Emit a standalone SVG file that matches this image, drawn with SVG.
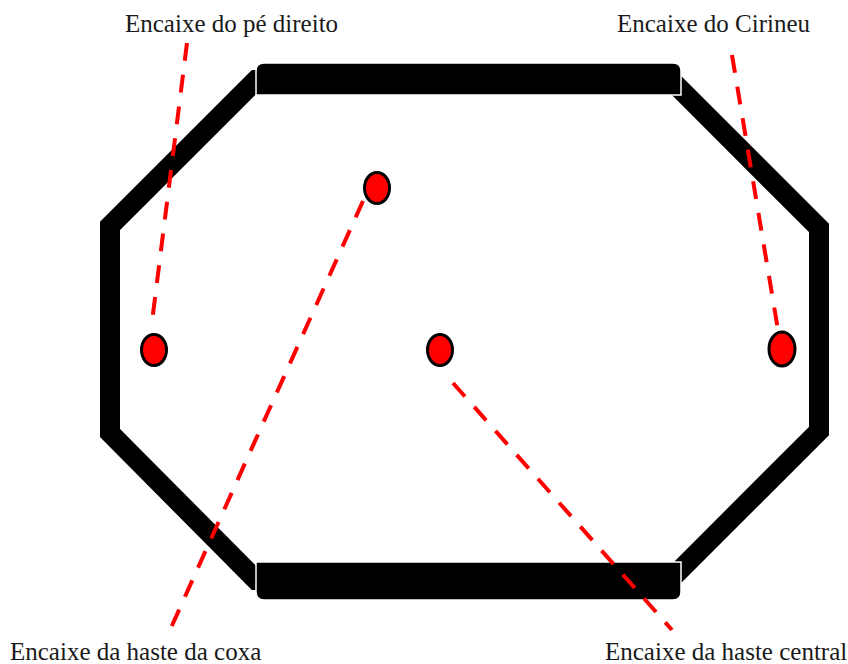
<svg xmlns="http://www.w3.org/2000/svg" width="848" height="664" viewBox="0 0 848 664">
<style>
.frame{fill:none;stroke:#000;stroke-width:20;stroke-linejoin:miter}
.bar{fill:#000;stroke:#fff;stroke-width:1.5}
.dot{fill:#f00;stroke:#000;stroke-width:3}
.lead{stroke:#f00;stroke-width:4;stroke-dasharray:18 14;fill:none}
.lbl{font-family:"Liberation Serif","Times New Roman",serif;font-size:25px;fill:#1a1a1a}
</style>
<rect width="848" height="664" fill="#fff"/>
<g id="frame">
<polygon class="frame" points="256,80 671,80 819,228 819,431 670,580 256,580 110,433 110,226"/>
<path id="topbar" class="bar" d="M256,95 V71 Q256,63 264,63 H673 Q681,63 681,71 V95 Z"/>
<path id="bottombar" class="bar" d="M256,562 V592 Q256,600 264,600 H673 Q681,600 681,592 V562 Z"/>
</g>
<g id="connectors">
<line class="lead" x1="187" y1="43" x2="152" y2="322"/>
<line class="lead" x1="732" y1="55" x2="778" y2="330"/>
<line class="lead" x1="363" y1="201" x2="170" y2="630"/>
<line class="lead" x1="453" y1="383" x2="672" y2="630"/>
</g>
<g id="dot-pe-direito"><ellipse class="dot" cx="154" cy="350" rx="12.5" ry="15.5"/></g>
<g id="dot-coxa"><ellipse class="dot" cx="377" cy="188" rx="12.5" ry="15.5"/></g>
<g id="dot-central"><ellipse class="dot" cx="440" cy="350" rx="12.5" ry="15.5"/></g>
<g id="dot-cirineu"><ellipse class="dot" cx="782" cy="349" rx="13" ry="17"/></g>
<g id="label-pe-direito"><text class="lbl" x="125" y="32">Encaixe do pé direito</text></g>
<g id="label-cirineu"><text class="lbl" x="617" y="32">Encaixe do Cirineu</text></g>
<g id="label-coxa"><text class="lbl" x="10" y="660">Encaixe da haste da coxa</text></g>
<g id="label-central"><text class="lbl" x="605" y="660">Encaixe da haste central</text></g>
</svg>
